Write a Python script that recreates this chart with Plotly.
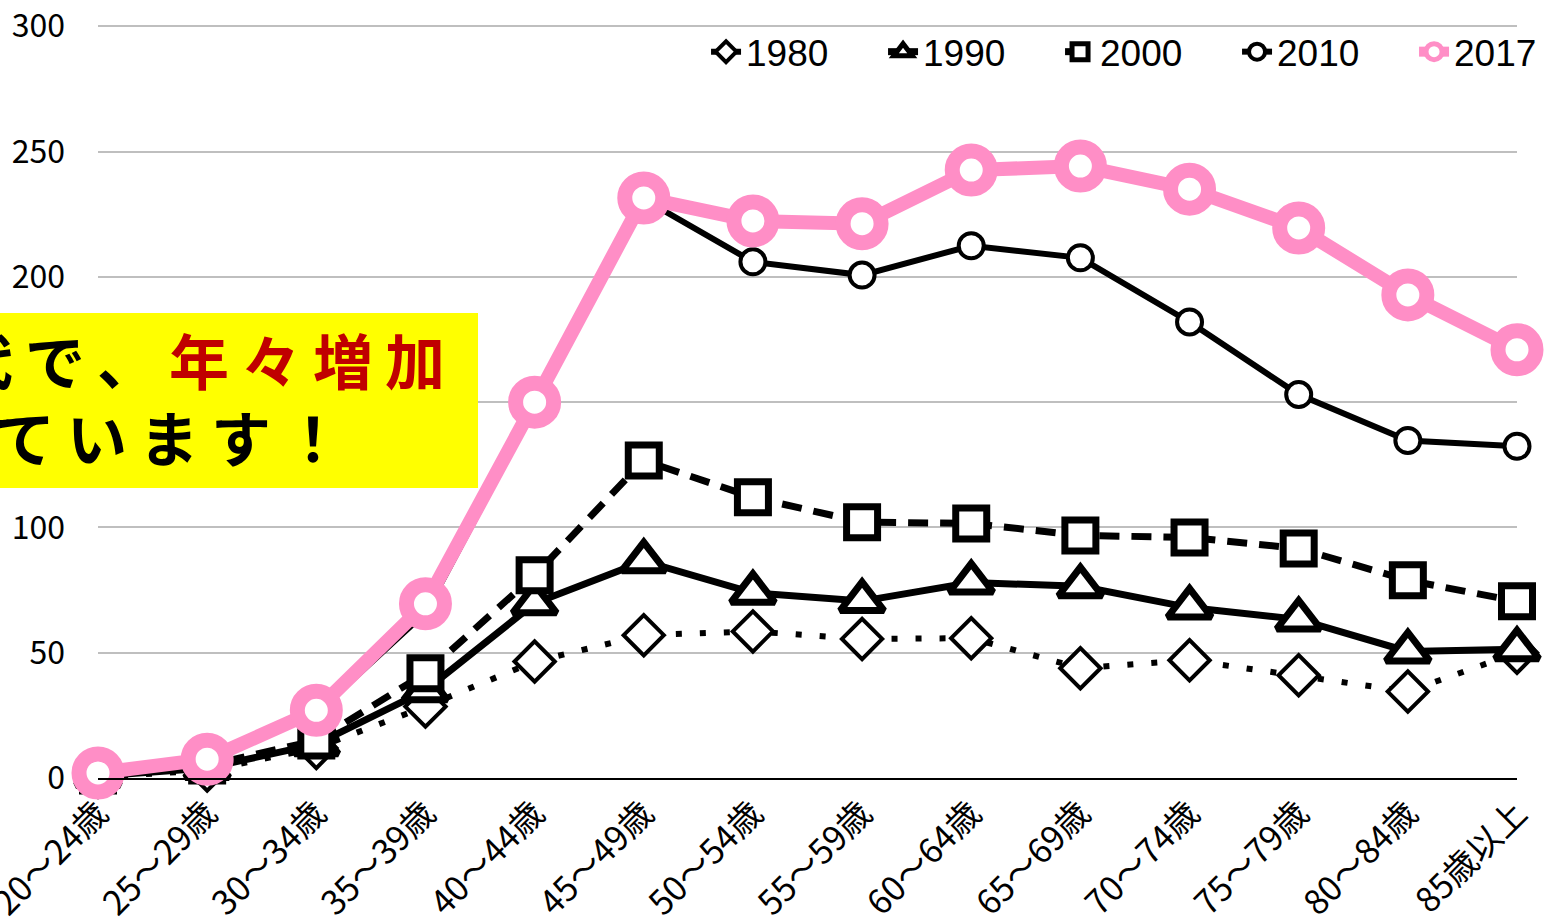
import plotly.graph_objects as go

categories = ["20～24歳", "25～29歳", "30～34歳", "35～39歳", "40～44歳", "45～49歳",
              "50～54歳", "55～59歳", "60～64歳", "65～69歳", "70～74歳", "75～79歳",
              "80～84歳", "85歳以上"]

v1980 = [0.5, 3, 12, 28.5, 46.5, 57, 58.5, 55.5, 55.8, 43.8, 47, 41, 34.5, 50]
v1990 = [0.8, 4, 13.5, 35, 69.7, 86.5, 73.9, 70.6, 78, 76.5, 68, 63.3, 50.5, 51.4]
v2000 = [1, 5, 15, 41.8, 80.9, 126.7, 112, 102.1, 101.6, 96.8, 96, 91.6, 78.9, 70.5]
v2010 = [1.5, 7, 26, 66, 148, 231, 206, 200.7, 212.4, 207.6, 182, 153, 134.7, 132.4]
v2017 = [2, 7.5, 27, 69.5, 150, 231.5, 222.3, 221.2, 242.6, 244.2, 235, 219.5, 192.8, 170.9]

y_ticks = [0, 50, 100, 150, 200, 250, 300]

note_line1 = ["代", "で", "、"]
note_red = ["年", "々", "増", "加"]
note_line2 = ["し", "て", "い", "ま", "す", "！"]

PINK = "#FF8EC6"
SP = "\u2009"

fig = go.Figure()

fig.add_trace(go.Scatter(
    x=categories, y=v1980, name="1980", mode="lines+markers",
    line=dict(color="black", width=6, dash="6px,18px"),
    marker=dict(symbol="diamond", size=31, color="white", line=dict(color="black", width=4)),
    cliponaxis=False))
fig.add_trace(go.Scatter(
    x=categories, y=v1990, name="1990", mode="lines+markers",
    line=dict(color="black", width=7),
    marker=dict(symbol="triangle-up", size=38, color="white", line=dict(color="black", width=7)),
    cliponaxis=False))
fig.add_trace(go.Scatter(
    x=categories, y=v2000, name="2000", mode="lines+markers",
    line=dict(color="black", width=7, dash="20px,12px"),
    marker=dict(symbol="square", size=31, color="white", line=dict(color="black", width=7)),
    cliponaxis=False))
fig.add_trace(go.Scatter(
    x=categories, y=v2010, name="2010", mode="lines+markers",
    line=dict(color="black", width=6),
    marker=dict(symbol="circle", size=25, color="white", line=dict(color="black", width=4)),
    cliponaxis=False))
fig.add_trace(go.Scatter(
    x=categories, y=v2017, name="2017", mode="lines+markers",
    line=dict(color=PINK, width=14),
    marker=dict(symbol="circle", size=38, color="white", line=dict(color=PINK, width=15)),
    cliponaxis=False))

# yellow note box
fig.add_shape(type="rect", xref="paper", yref="paper",
              x0=-0.08, x1=0.2678, y0=0.385, y1=0.6175,
              fillcolor="#FFFF00", line=dict(width=0), layer="above")

line1 = SP.join(note_line1) + SP + "<span style='color:#C00000'>" + SP.join(note_red) + "</span>"
line2 = SP.join(note_line2)
note_font = dict(family="Noto Sans CJK JP", size=60, color="black", weight="bold")
fig.add_annotation(text=line1, xref="paper", yref="paper", x=-0.1035, y=0.557,
                   xanchor="left", yanchor="middle", showarrow=False, font=note_font)
fig.add_annotation(text=line2, xref="paper", yref="paper", x=-0.1245, y=0.455,
                   xanchor="left", yanchor="middle", showarrow=False, font=note_font)

fig.update_layout(
    width=1544, height=920,
    margin=dict(l=98, r=27, t=25, b=142, autoexpand=False),
    plot_bgcolor="white", paper_bgcolor="white",
    showlegend=True,
    legend=dict(orientation="h", x=0.4285, y=0.964, xanchor="left", yanchor="middle",
                bgcolor="rgba(0,0,0,0)", entrywidth=132, entrywidthmode="pixels",
                font=dict(family="Liberation Sans", size=37, color="black")),
    xaxis=dict(type="category", range=[0, len(categories) - 1], tickangle=-45,
               showgrid=False, showline=True, linecolor="black", linewidth=2,
               ticks="", automargin=False,
               tickfont=dict(family="Noto Sans CJK JP", size=34, color="black")),
    yaxis=dict(range=[0, 300.5], tickvals=y_ticks, showgrid=True, gridcolor="#BFBFBF",
               gridwidth=2, zeroline=False, showline=False, ticks="", automargin=False,
               ticklabelstandoff=32,
               tickfont=dict(family="Noto Sans CJK JP", size=32, color="black")),
)

fig.write_html("out.html", config={"displayModeBar": False},
               post_script="document.body.style.margin='0';")
